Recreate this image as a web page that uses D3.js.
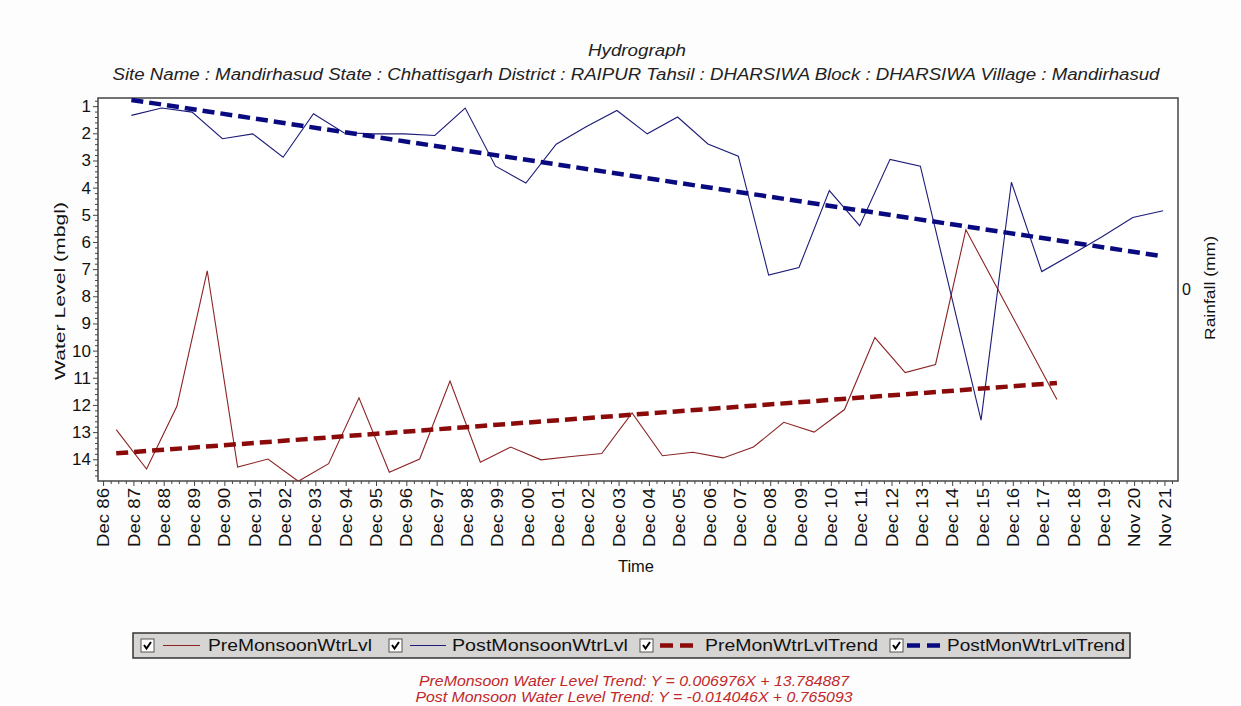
<!DOCTYPE html>
<html>
<head>
<meta charset="utf-8">
<script src="https://cdn.jsdelivr.net/npm/d3@7"></script>
<style>
  body { margin: 0; background: #fff; }
  svg { font-family: "Liberation Sans", Arial, sans-serif; }
</style>
</head>
<body>
<script>
const tickLabels = ["Dec 86","Dec 87","Dec 88","Dec 89","Dec 90","Dec 91","Dec 92","Dec 93","Dec 94",
  "Dec 95","Dec 96","Dec 97","Dec 98","Dec 99","Dec 00","Dec 01","Dec 02","Dec 03","Dec 04","Dec 05",
  "Dec 06","Dec 07","Dec 08","Dec 09","Dec 10","Dec 11","Dec 12","Dec 13","Dec 14","Dec 15","Dec 16",
  "Dec 17","Dec 18","Dec 19","Nov 20","Nov 21"];

// pre-monsoon (May) readings
const preYears = [1987.37,1988.37,1989.37,1990.37,1991.37,1992.37,1993.37,1994.37,1995.37,1996.37,
  1997.37,1998.37,1999.37,2000.37,2001.37,2002.37,2003.37,2004.37,2005.37,2006.37,2007.37,2008.37,
  2009.37,2010.37,2011.37,2012.37,2013.37,2014.37,2015.37,2018.37];
const preLevels = [12.91,14.36,12.05,7.06,14.29,13.99,14.81,14.16,11.74,14.48,
  13.99,11.12,14.11,13.55,14.02,13.9,13.79,12.29,13.87,13.74,13.95,13.55,
  12.64,13.0,12.17,9.52,10.81,10.51,5.55,11.8];

// post-monsoon (Nov) readings
const postYears = [1987.87,1988.87,1989.87,1990.87,1991.87,1992.87,1993.87,1994.87,1995.87,1996.87,
  1997.87,1998.87,1999.87,2000.87,2001.87,2002.87,2003.87,2004.87,2005.87,2006.87,2007.87,2008.87,
  2009.87,2010.87,2011.87,2012.87,2013.87,2015.87,2016.87,2017.87,2018.87,2019.87,2020.87,2021.87];
const postLevels = [1.34,1.07,1.22,2.2,2.02,2.88,1.28,1.98,2.02,2.02,
  2.08,1.07,3.21,3.83,2.4,1.75,1.16,2.02,1.4,2.39,2.84,7.22,
  6.94,4.11,5.4,2.96,3.21,12.56,3.8,7.09,6.45,5.8,5.1,4.85];

const preTrendYears = [1987.37, 2018.37];
const preTrendLevels = [13.78, 11.19];
const postTrendYears = [1987.87, 2021.87];
const postTrendLevels = [0.77, 6.53];

const yTicks = [1,2,3,4,5,6,7,8,9,10,11,12,13,14];
const legendNames = ["PreMonsoonWtrLvl","PostMonsoonWtrLvl","PreMonWtrLvlTrend","PostMonWtrLvlTrend"];
const equations = ["PreMonsoon Water Level Trend: Y = 0.006976X + 13.784887",
  "Post Monsoon Water Level Trend: Y = -0.014046X + 0.765093"];

const width = 1241, height = 706;
const plotLeft = 98, plotRight = 1178, plotTop = 98, plotBottom = 481;
const preColor = "#8b2323", postColor = "#1c1c78", preTrendColor = "#8b0a0a", postTrendColor = "#0a0a80";

function drawChart() {
  let svg = d3.select("body").append("svg")
    .attr("width", width).attr("height", height);

  svg.append("rect").attr("width", width).attr("height", height).attr("fill", "#fdfdfd");

  let x = d3.scaleLinear().domain([1986.77, 2022.36]).range([plotLeft, plotRight]);
  let y = d3.scaleLinear().domain([0.7, 14.8]).range([plotTop, plotBottom]);

  // tick k sits 365 days after tick k-1, starting 9 Dec 1986
  let xTicks = tickLabels.map(function (d, i) { return 1986.937 + i * 365 / 365.25; });
  let xMinor = [];
  xTicks.forEach(function (t) { [0.25, 0.5, 0.75].forEach(function (f) { if (t + f < 2022.36) xMinor.push(t + f); }); });
  let yMinor = d3.range(0.8, 14.8, 0.2).filter(function (v) { return Math.abs(v - Math.round(v)) > 0.01; });

  // frame
  svg.append("rect")
    .attr("x", plotLeft).attr("y", plotTop)
    .attr("width", plotRight - plotLeft).attr("height", plotBottom - plotTop)
    .attr("fill", "#fff").attr("stroke", "#444").attr("stroke-width", 1.5);

  // x axis
  let xAxis = d3.axisBottom(x).tickValues(xTicks).tickSize(5)
    .tickFormat(function (d, i) { return tickLabels[i]; });
  let gx = svg.append("g").attr("transform", "translate(0," + plotBottom + ")").call(xAxis);
  gx.select(".domain").remove();
  gx.selectAll("text")
    .attr("transform", "rotate(-90)")
    .attr("text-anchor", "end")
    .attr("x", -7).attr("y", 0).attr("dy", "0.35em")
    .attr("font-size", 16).attr("font-family", "Liberation Sans, Arial, sans-serif")
    .attr("textLength", 59).attr("lengthAdjust", "spacingAndGlyphs")
    .attr("fill", "#111");
  svg.append("g").attr("transform", "translate(0," + plotBottom + ")")
    .call(d3.axisBottom(x).tickValues(xMinor).tickSize(3).tickFormat(""))
    .select(".domain").remove();

  // y axis
  let gy = svg.append("g").attr("transform", "translate(" + plotLeft + ",0)")
    .call(d3.axisLeft(y).tickValues(yTicks).tickSize(5).tickPadding(2));
  gy.select(".domain").remove();
  gy.selectAll("text").attr("font-size", 17).attr("fill", "#111")
    .attr("font-family", "Liberation Sans, Arial, sans-serif");
  svg.append("g").attr("transform", "translate(" + plotLeft + ",0)")
    .call(d3.axisLeft(y).tickValues(yMinor).tickSize(3).tickFormat(""))
    .select(".domain").remove();
  svg.selectAll(".tick line").attr("stroke", "#444");

  // right (rainfall) axis: single 0 label
  svg.append("text")
    .attr("x", plotRight + 4).attr("y", (plotTop + plotBottom) / 2).attr("dy", "0.35em")
    .attr("font-size", 16).attr("fill", "#111").text("0");

  let line = d3.line()
    .x(function (d) { return x(d[0]); })
    .y(function (d) { return y(d[1]); });

  svg.append("clipPath").attr("id", "plot")
    .append("rect").attr("x", plotLeft).attr("y", plotTop)
    .attr("width", plotRight - plotLeft).attr("height", plotBottom - plotTop);

  let plot = svg.append("g").attr("clip-path", "url(#plot)");

  plot.append("path")
    .attr("d", line(d3.zip(preYears, preLevels)))
    .attr("fill", "none").attr("stroke", preColor).attr("stroke-width", 1.1);

  plot.append("path")
    .attr("d", line(d3.zip(postYears, postLevels)))
    .attr("fill", "none").attr("stroke", postColor).attr("stroke-width", 1.1);

  plot.append("path")
    .attr("d", line(d3.zip(preTrendYears, preTrendLevels)))
    .attr("fill", "none").attr("stroke", preTrendColor).attr("stroke-width", 4.5)
    .attr("stroke-dasharray", "12,6");

  plot.append("path")
    .attr("d", line(d3.zip(postTrendYears, postTrendLevels)))
    .attr("fill", "none").attr("stroke", postTrendColor).attr("stroke-width", 4.5)
    .attr("stroke-dasharray", "12,6");

  // titles
  svg.append("text").attr("x", 637).attr("y", 56).attr("text-anchor", "middle")
    .attr("font-size", 16).attr("font-style", "italic").attr("fill", "#222")
    .attr("textLength", 98).attr("lengthAdjust", "spacingAndGlyphs").text("Hydrograph");
  svg.append("text").attr("x", 636).attr("y", 80).attr("text-anchor", "middle")
    .attr("font-size", 16).attr("font-style", "italic").attr("fill", "#222")
    .attr("textLength", 1047).attr("lengthAdjust", "spacingAndGlyphs")
    .text("Site Name : Mandirhasud  State : Chhattisgarh District : RAIPUR  Tahsil : DHARSIWA  Block : DHARSIWA Village : Mandirhasud");

  svg.append("text").attr("x", 636).attr("y", 572).attr("text-anchor", "middle")
    .attr("font-size", 16).attr("fill", "#111")
    .attr("textLength", 36).attr("lengthAdjust", "spacingAndGlyphs").text("Time");
  svg.append("text")
    .attr("transform", "translate(65,291)rotate(-90)")
    .attr("text-anchor", "middle").attr("font-size", 15.5).attr("fill", "#111")
    .attr("textLength", 178).attr("lengthAdjust", "spacingAndGlyphs")
    .text("Water Level (mbgl)");
  svg.append("text")
    .attr("transform", "translate(1215,288)rotate(-90)")
    .attr("text-anchor", "middle").attr("font-size", 15.5).attr("fill", "#111")
    .attr("textLength", 104).attr("lengthAdjust", "spacingAndGlyphs")
    .text("Rainfall (mm)");

  // legend
  let legend = svg.append("g");
  legend.append("rect")
    .attr("x", 133).attr("y", 633).attr("width", 997).attr("height", 25)
    .attr("fill", "#d6d5d3").attr("stroke", "#333").attr("stroke-width", 1.5);
  let boxX = [141, 389, 640, 890];
  let sampleX = [[163, 200], [410, 446], [660, 695], [907, 940]];
  let textX = [208, 452, 705, 947];
  let textLen = [164, 176, 173, 178];
  let colors = [preColor, postColor, preTrendColor, postTrendColor];
  let midY = 645.5;
  legendNames.forEach(function (name, i) {
    legend.append("rect").attr("x", boxX[i]).attr("y", midY - 6.5).attr("width", 13).attr("height", 13)
      .attr("fill", "#fff").attr("stroke", "#555");
    legend.append("path")
      .attr("transform", "translate(" + boxX[i] + "," + (midY - 6.5) + ")")
      .attr("d", "M3,6 L5.5,9.5 L10,3")
      .attr("fill", "none").attr("stroke", "#000").attr("stroke-width", 2);
    let s = legend.append("line")
      .attr("x1", sampleX[i][0]).attr("x2", sampleX[i][1]).attr("y1", midY).attr("y2", midY)
      .attr("stroke", colors[i]);
    if (i < 2) {
      s.attr("stroke-width", 1.2);
    } else {
      s.attr("stroke-width", 4.5).attr("stroke-dasharray", "13,7");
    }
    legend.append("text").attr("x", textX[i]).attr("y", midY).attr("dy", "0.35em")
      .attr("font-size", 16).attr("fill", "#111")
      .attr("textLength", textLen[i]).attr("lengthAdjust", "spacingAndGlyphs").text(name);
  });

  // trend equations
  let eqLen = [430, 437];
  equations.forEach(function (eq, i) {
    svg.append("text").attr("x", 634).attr("y", 686 + i * 16).attr("text-anchor", "middle")
      .attr("font-size", 14).attr("font-style", "italic").attr("fill", "#c0282a")
      .attr("textLength", eqLen[i]).attr("lengthAdjust", "spacingAndGlyphs")
      .text(eq);
  });
}

drawChart();
</script>
</body>
</html>
